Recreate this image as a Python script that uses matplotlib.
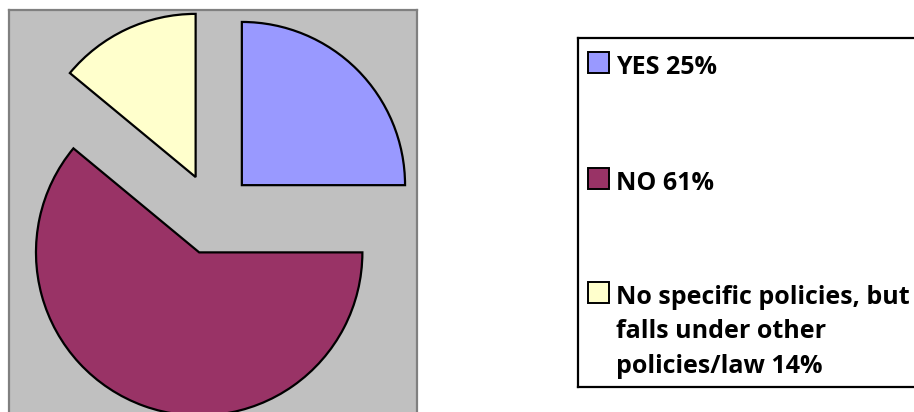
import matplotlib.pyplot as plt
from matplotlib.patches import Rectangle
from matplotlib.lines import Line2D

# pie data
labels = ["YES 25%", "NO 61%", "No specific policies, but\nfalls under other\npolicies/law 14%"]
shares = [25, 61, 14]
colors = ["#9999FF", "#993366", "#FFFFCC"]

W, H = 914, 412
fig = plt.figure(figsize=(W / 100, H / 100), dpi=100)

# plot area (gray box), partly running off the bottom of the image
ax = fig.add_axes([8 / W, 1 - 418 / H, 410 / W, 408 / H])
ax.set_facecolor("#C0C0C0")
wedges, _ = ax.pie(shares, colors=colors, startangle=90, counterclock=False,
                   explode=[0.25] * len(shares),
                   wedgeprops=dict(edgecolor="black", linewidth=1.6))
ax.set_xlim(-1.25, 1.25)
ax.set_ylim(-1.25, 1.25)
ax.set_frame_on(True)
for s in ax.spines.values():
    s.set_color("#808080")
    s.set_linewidth(1.6)


def fx(x):
    return x / W


def fy(y):
    return 1 - y / H


# legend box, open on the right (runs off the image)
for xs, ys in [([fx(578), fx(930)], [fy(38), fy(38)]),
               ([fx(578), fx(578)], [fy(38), fy(387)]),
               ([fx(578), fx(930)], [fy(387), fy(387)])]:
    fig.add_artist(Line2D(xs, ys, transform=fig.transFigure, color="black",
                          linewidth=1.6))

baselines = [74, 190, 304]
line_gap = 34.5
for w, lab, base in zip(wedges, labels, baselines):
    fig.add_artist(Rectangle((fx(588), fy(base - 1)), fx(21), 21 / H,
                             transform=fig.transFigure,
                             facecolor=w.get_facecolor(), edgecolor="black",
                             linewidth=1.4))
    for i, line in enumerate(lab.split("\n")):
        fig.text(fx(616), fy(base + i * line_gap), line, family="Open Sans",
                 weight="bold", fontsize=18, va="baseline", ha="left")

fig.savefig("out.png", dpi=100)
